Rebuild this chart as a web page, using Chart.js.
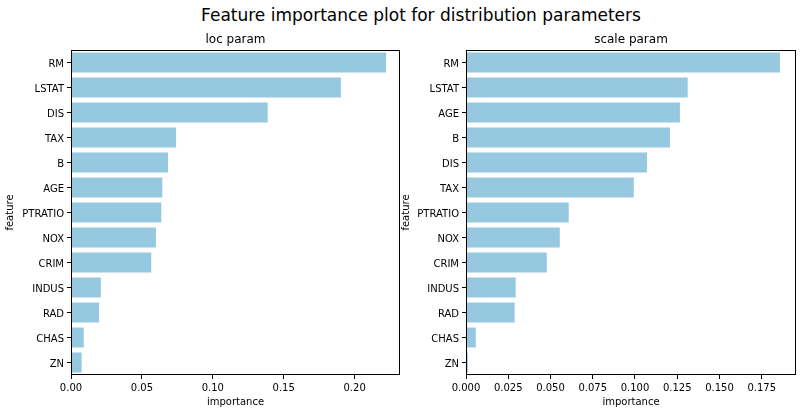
<!DOCTYPE html>
<html>
<head>
<meta charset="utf-8">
<script src="https://cdn.jsdelivr.net/npm/chart.js@4.4.1/dist/chart.umd.min.js"></script>
<style>
  body { margin: 0; background: #fff; overflow: hidden; }
  #wrap { position: relative; width: 803px; height: 414px; overflow: hidden; font-family: "DejaVu Sans", sans-serif; }
  #suptitle { position: absolute; left: 0; top: 5px; width: 842px; text-align: center; font-size: 17px; line-height: 20px; color: #000; }
  canvas { position: absolute; top: 0; }
</style>
</head>
<body>
<div id="wrap">
  <div id="suptitle">Feature importance plot for distribution parameters</div>
  <canvas id="locChart" width="401" height="414" style="left:0"></canvas>
  <canvas id="scaleChart" width="403" height="414" style="left:400px"></canvas>
</div>
<script>
// loc param
var locFeatures = ["RM", "LSTAT", "DIS", "TAX", "B", "AGE", "PTRATIO", "NOX", "CRIM", "INDUS", "RAD", "CHAS", "ZN"];
var locImportance = [0.2222, 0.1903, 0.1387, 0.0741, 0.0684, 0.0644, 0.0637, 0.0599, 0.0566, 0.0210, 0.0198, 0.0090, 0.0075];
var locTicks = [0, 0.05, 0.10, 0.15, 0.20];

// scale param
var scaleFeatures = ["RM", "LSTAT", "AGE", "B", "DIS", "TAX", "PTRATIO", "NOX", "CRIM", "INDUS", "RAD", "CHAS", "ZN"];
var scaleImportance = [0.1858, 0.1312, 0.1266, 0.1207, 0.1071, 0.0993, 0.0608, 0.0555, 0.0478, 0.0294, 0.0288, 0.0058, 0.0011];
var scaleTicks = [0, 0.025, 0.05, 0.075, 0.10, 0.125, 0.15, 0.175];

Chart.defaults.font.family = "DejaVu Sans";
Chart.defaults.font.size = 10;
Chart.defaults.color = "#000";

// draw the four spines like matplotlib
var frame = {
  id: "frame",
  afterDraw: function (chart) {
    var a = chart.chartArea, ctx = chart.ctx;
    ctx.save();
    ctx.strokeStyle = "#000";
    ctx.lineWidth = 1;
    var l = Math.round(a.left) + 0.5, t = Math.round(a.top) + 0.5;
    var r = Math.round(a.right) - 0.5, b = Math.round(a.bottom) - 0.5;
    ctx.strokeRect(l, t, r - l, b - t);
    ctx.restore();
  }
};

function makeChart(id, title, labels, values, xMax, ticks, decimals, yWidth, padRight, yTitlePad) {
  var ctx = document.getElementById(id).getContext("2d");
  return new Chart(ctx, {
    type: "bar",
    data: {
      labels: labels,
      datasets: [{
        data: values,
        backgroundColor: "#96c9df",
        barPercentage: 0.8,
        categoryPercentage: 1.0
      }]
    },
    options: {
      indexAxis: "y",
      responsive: false,
      animation: false,
      devicePixelRatio: 1,
      layout: { padding: { left: 0, right: padRight, top: 0, bottom: 0 } },
      plugins: {
        legend: { display: false },
        tooltip: { enabled: false },
        title: {
          display: true,
          text: title,
          fullSize: false,
          font: { size: 12, weight: "normal" },
          color: "#000",
          padding: { top: 33, bottom: 2.6 }
        }
      },
      scales: {
        x: {
          type: "linear",
          min: 0,
          max: xMax,
          afterFit: function (s) { s.height = 39; },
          afterBuildTicks: function (s) { s.ticks = ticks.map(function (v) { return { value: v }; }); },
          ticks: {
            padding: 3,
            callback: function (v) { return Number(v).toFixed(decimals); }
          },
          grid: { drawOnChartArea: false, drawTicks: true, tickLength: 4, color: "#000" },
          border: { display: false },
          title: { display: true, text: "importance", font: { size: 10 }, padding: { top: 0, bottom: 6 } }
        },
        y: {
          afterFit: function (s) { s.width = yWidth; },
          ticks: { padding: 3, autoSkip: false, labelOffset: 2 },
          grid: { drawOnChartArea: false, drawTicks: true, tickLength: 4, color: "#000", offset: false },
          border: { display: false },
          title: { display: true, text: "feature", font: { size: 10 }, padding: { top: yTitlePad, bottom: 0 } }
        }
      }
    },
    plugins: [frame]
  });
}

makeChart("locChart", "loc param", locFeatures, locImportance, 0.232, locTicks, 2, 71, 1, 4);
makeChart("scaleChart", "scale param", scaleFeatures, scaleImportance, 0.1953, scaleTicks, 3, 66, 7, 0);
</script>
</body>
</html>
